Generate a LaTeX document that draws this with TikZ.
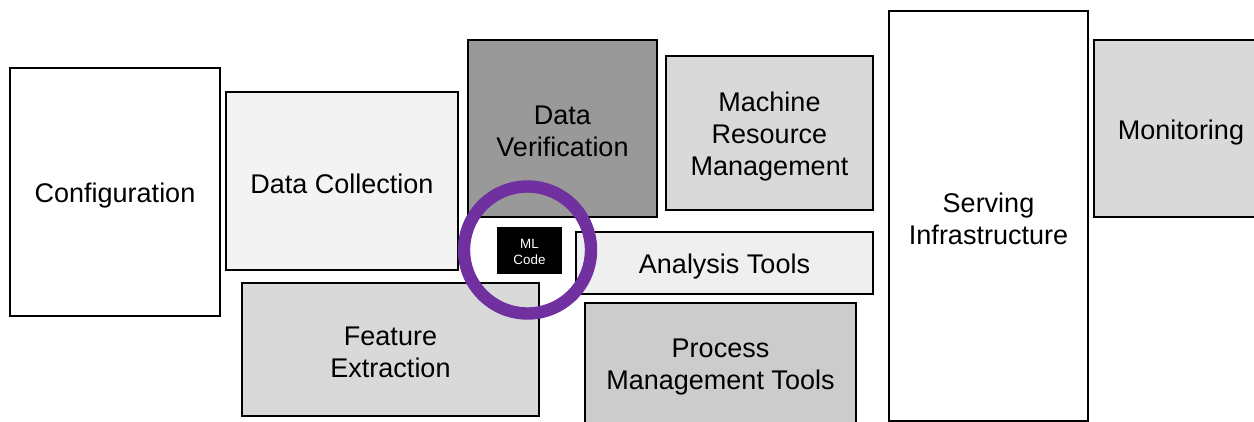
\documentclass[tikz,border=0pt]{standalone}
\usepackage{fontspec}
\setmainfont{Liberation Sans}
\definecolor{ringpurple}{HTML}{7030A0}
\definecolor{shadeA}{HTML}{F3F3F3}
\definecolor{shadeB}{HTML}{EFEFEF}
\definecolor{shadeC}{HTML}{D9D9D9}
\definecolor{shadeD}{HTML}{CCCCCC}
\definecolor{shadeE}{HTML}{999999}
\begin{document}
\begin{tikzpicture}[x=0.5pt,y=-0.5pt,
  block/.style={draw=black, line width=1pt, rectangle, inner sep=0pt},
  caption/.style={inner sep=0pt, align=center,
    font=\fontsize{13.5}{16}\selectfont, yshift=-1.6pt},
  mlbox/.style={fill=black, rectangle, inner sep=0pt},
  mlcaption/.style={text=white, inner sep=0pt, align=center,
    font=\fontsize{6.7}{8.3}\selectfont, yshift=-0.8pt},
  ring/.style={draw=ringpurple, line width=6.2pt, circle, inner sep=0pt}]
\useasboundingbox (0,0) rectangle (1254,422);
\fill[white] (0,0) rectangle (1254,422);
\clip (0,0) rectangle (1254,422);

% surrounding infrastructure blocks
\node[block, fill=white, minimum width=105pt, minimum height=124pt]
  (conf) at (115,192) {};
\node[block, fill=shadeA, minimum width=116pt, minimum height=89pt]
  (dcol) at (342,181) {};
\node[block, fill=shadeE, minimum width=94.5pt, minimum height=88.5pt]
  (dver) at (562.5,128.5) {};
\node[block, fill=shadeC, minimum width=103.5pt, minimum height=77pt]
  (mrm) at (769.5,133) {};
\node[block, fill=white, minimum width=99.5pt, minimum height=205pt]
  (serv) at (988.5,216) {};
\node[block, fill=shadeC, minimum width=87pt, minimum height=88.5pt]
  (mon) at (1181,129) {};
\node[block, fill=shadeB, minimum width=148.5pt, minimum height=31pt]
  (anal) at (724.5,263) {};
\node[block, fill=shadeC, minimum width=148.5pt, minimum height=66.5pt]
  (feat) at (390.5,349.5) {};
\node[block, fill=shadeD, minimum width=135.5pt, minimum height=61pt]
  (proc) at (720.5,364) {};

% block captions
\node[caption] (conf-t) at (conf.center) {Configuration};
\node[caption] (dcol-t) at (dcol.center) {Data Collection};
\node[caption] (dver-t) at (dver.center) {Data\\Verification};
\node[caption] (mrm-t) at (mrm.center) {Machine\\Resource\\Management};
\node[caption] (serv-t) at (serv.center) {Serving\\Infrastructure};
\node[caption] (mon-t) at (mon.center) {Monitoring};
\node[caption] (anal-t) at (anal.center) {Analysis Tools};
\node[caption] (feat-t) at (feat.center) {Feature\\Extraction};
\node[caption] (proc-t) at (proc.center) {Process\\Management Tools};

% the small ML code box and its highlight ring
\node[mlbox, minimum width=32.5pt, minimum height=23.5pt]
  (ml) at (529.5,250.5) {};
\node[mlcaption] (ml-t) at (ml.center) {ML\\Code};
\node[ring, minimum size=63.5pt] (hl) at (527.5,250) {};
\end{tikzpicture}
\end{document}
